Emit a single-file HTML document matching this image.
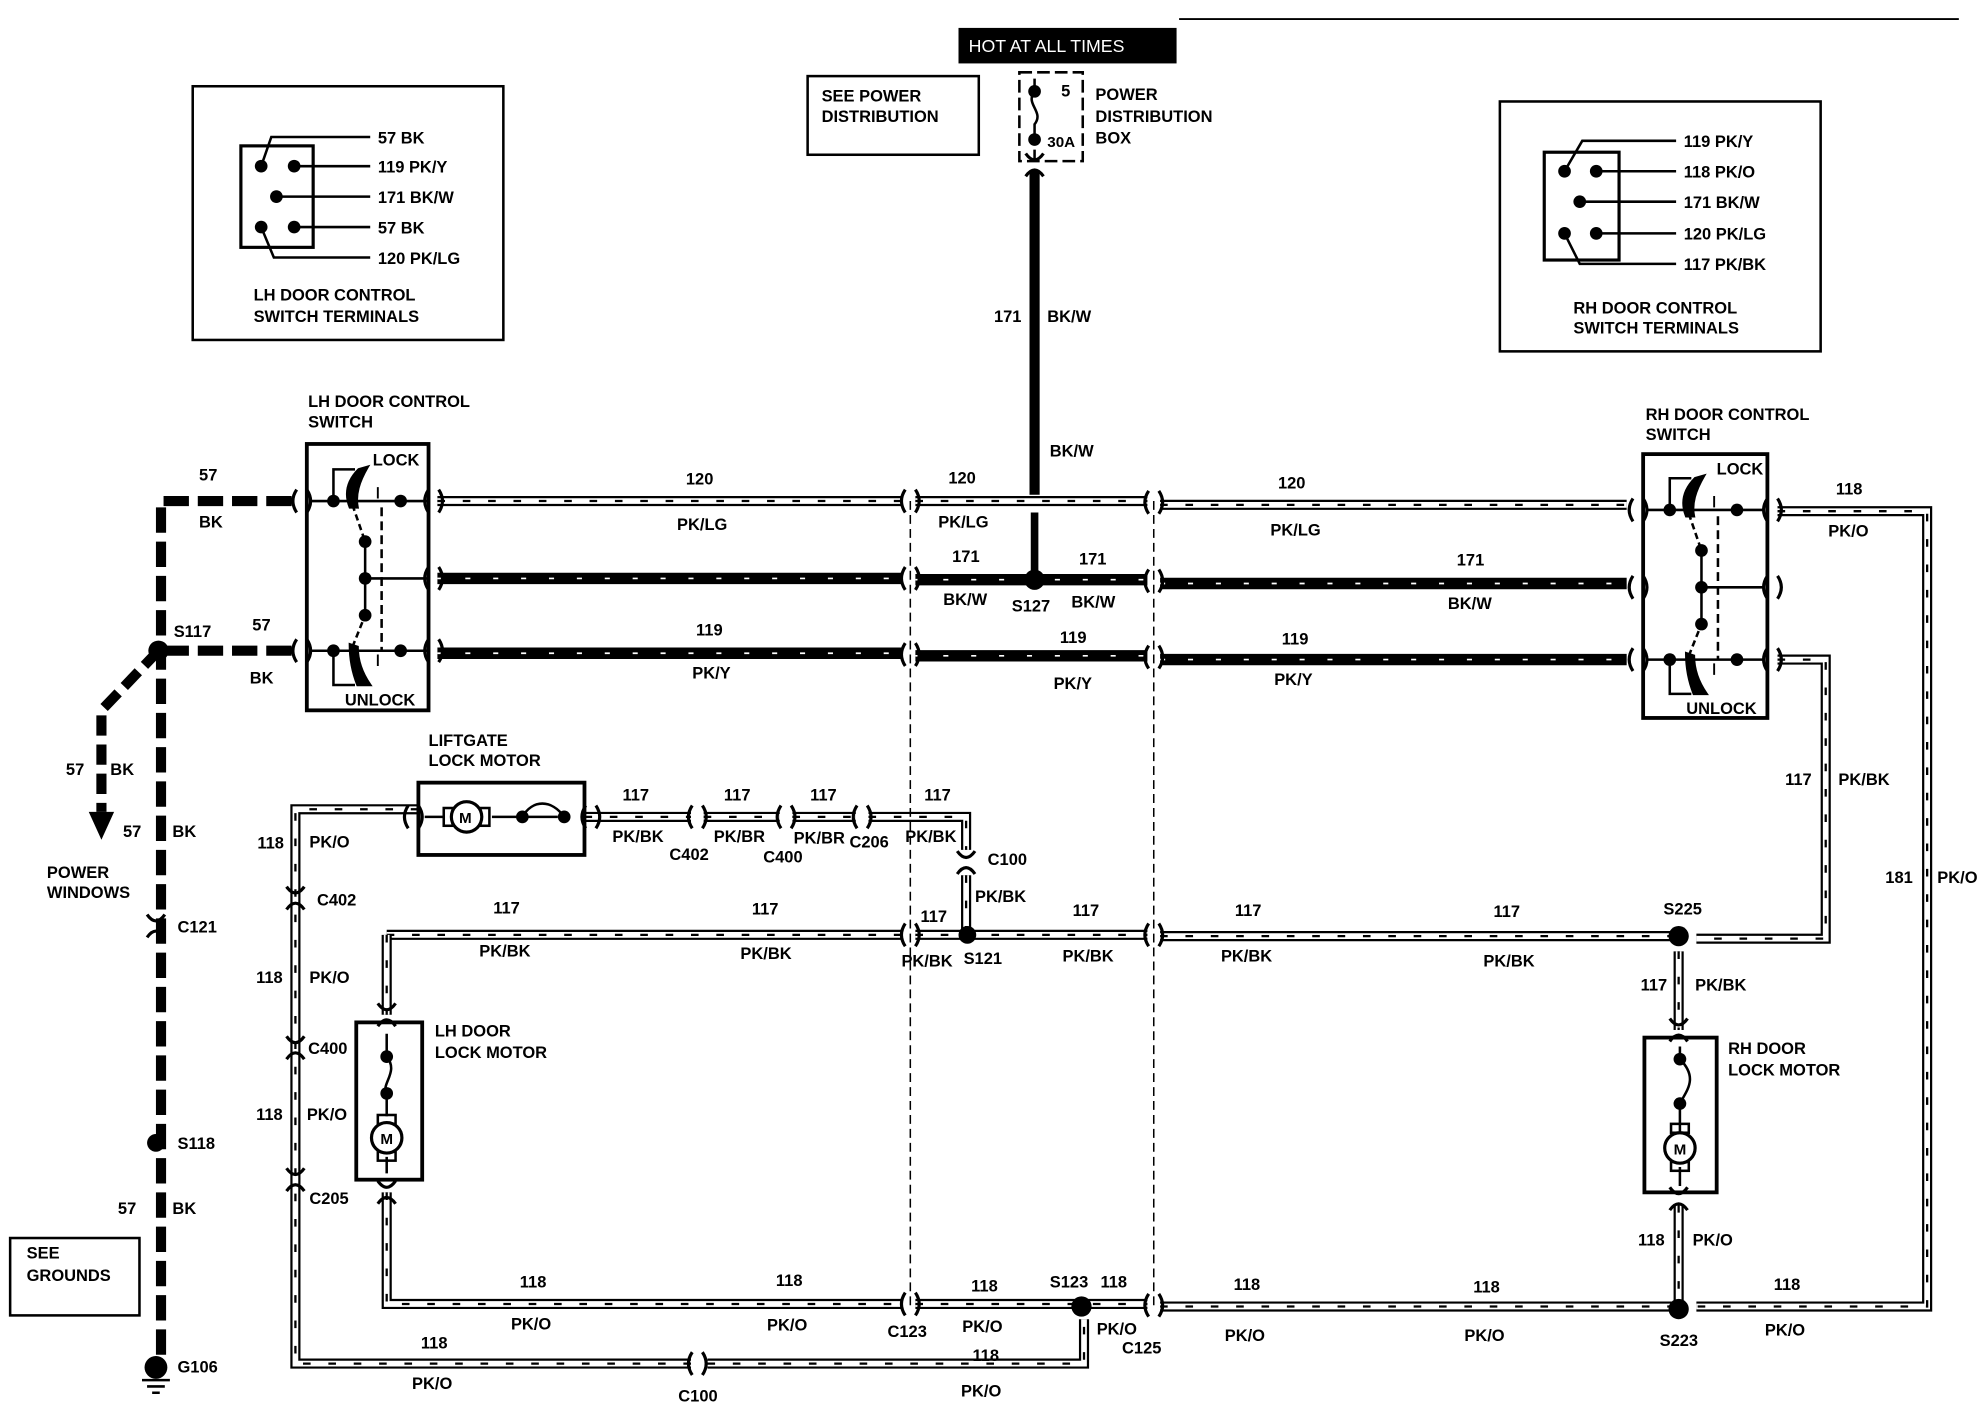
<!DOCTYPE html>
<html><head><meta charset="utf-8"><style>
html,body{margin:0;padding:0;background:#fff;}
svg{display:block;}
text{font-family:"Liberation Sans",sans-serif;font-weight:bold;font-size:13px;fill:#000;}
.n{font-weight:normal;}
</style></head><body>
<svg id="s" width="1988" height="1408" viewBox="0 0 1568 1110" preserveAspectRatio="none" xmlns="http://www.w3.org/2000/svg">
<rect width="1568" height="1110" fill="#fff"/>
<g id="wires"></g>
<g id="fg" fill="none" stroke="#000">
<line x1="930" y1="15" x2="1545" y2="15" stroke-width="1.5"/>
<rect x="152" y="68" width="245" height="200" stroke-width="2"/>
<rect x="190" y="115" width="57" height="80" stroke-width="2.5"/>
<rect x="1183" y="80" width="253" height="197" stroke-width="2"/>
<rect x="1218" y="120" width="59" height="85" stroke-width="2.5"/>
<rect x="637" y="60" width="135" height="62" stroke-width="2"/>
<rect x="804" y="57" width="50" height="70" stroke-width="2" stroke-dasharray="10 4"/>
<rect x="242" y="350" width="96" height="210" stroke-width="3"/>
<rect x="1296" y="358" width="98" height="208" stroke-width="3"/>
<rect x="330" y="617" width="131" height="57" stroke-width="3"/>
<rect x="281" y="806" width="52" height="124" stroke-width="3"/>
<rect x="1297" y="818" width="57" height="122" stroke-width="3"/>
<rect x="8" y="976" width="102" height="61" stroke-width="2"/>
<g stroke-width="2">
<path d="M206,131 L214,108 H292 M232,131 H292 M218,155 H292 M232,179 H292 M206,179 L216,203 H292"/>
<path d="M1234,135 L1248,111 H1322 M1259,135 H1322 M1246,159 H1322 M1259,184 H1322 M1234,184 L1246,208 H1322"/>
</g>
<line x1="718" y1="395" x2="718" y2="1030" stroke-width="1.2" stroke-dasharray="7 4"/>
<line x1="910" y1="395" x2="910" y2="1030" stroke-width="1.2" stroke-dasharray="7 4"/>
<g stroke-width="8" stroke-dasharray="20 7">
<path d="M230,395 H127 V1070"/>
<path d="M230,513 H125"/>
<path d="M125,513 L80,560 V640" stroke-dasharray="16 7"/>
</g>
<path d="M816,72 C808,82 824,88 816,98 V110 M816,118 V127 M816,72 V62" stroke-width="2"/>
<line x1="816" y1="135" x2="816" y2="390" stroke-width="8"/>
<line x1="816" y1="404" x2="816" y2="455" stroke-width="6"/>
<path d="M335,644 H350 M388,644 H440 M412,644 C420,630 435,630 445,644" stroke-width="2"/>
<rect x="350" y="637" width="7" height="14" stroke-width="2"/>
<rect x="379" y="637" width="7" height="14" stroke-width="2"/>
<circle cx="368" cy="644" r="12" stroke-width="2.5" fill="#fff"/>
<path d="M305,815 V833 M305,833 C315,845 300,855 305,862 M305,862 V880 M305,912 V925" stroke-width="2"/>
<rect x="298" y="879" width="14" height="7" stroke-width="2"/>
<rect x="298" y="908" width="14" height="7" stroke-width="2"/>
<circle cx="305" cy="897" r="12" stroke-width="2.5" fill="#fff"/>
<path d="M1325,825 V835 M1325,835 C1340,850 1330,860 1325,870 V893 M1325,920 V935" stroke-width="2"/>
<rect x="1318" y="886" width="14" height="7" stroke-width="2"/>
<rect x="1318" y="916" width="14" height="7" stroke-width="2"/>
<circle cx="1325" cy="905" r="12" stroke-width="2.5" fill="#fff"/>
<g id="sw" stroke-width="2">
<path d="M244,395 H338 M244,513 H338 M288,456 H338 M288,427 V485"/>
<path d="M263,395 V370 H280 M263,513 V540 H280"/>
<path d="M278,398 L288,427 M278,510 L288,485" stroke-dasharray="5 3"/>
<path d="M301,400 V513" stroke-dasharray="7 4"/>
<path d="M283,370 C273,380 272,390 276,400 L282,400 C280,390 283,380 290,368Z M282,540 C278,530 276,520 276,508 L282,510 C282,520 285,530 292,540Z" fill="#000"/>
<path d="M298,384 V393 M298,525 V516" stroke-width="1.5"/>
</g>
<use href="#sw" transform="translate(1054,7)"/>
<path d="M112,1088 H134 M116,1093 H130 M120,1098 H126" stroke-width="2"/>
<path d="M80,640 L70,640 L80,662 L90,640Z" fill="#000" stroke="none"/>
</g>
<g id="dots" fill="#000"></g>
<text x="362" y="649" style="font-size:12px">M</text>
<text x="300" y="902" style="font-size:12px">M</text>
<text x="1320" y="910" style="font-size:12px">M</text>
<rect x="756" y="22" width="172" height="28" fill="#000"/>
<text x="764" y="41" style="fill:#fff;font-weight:normal;font-size:14px">HOT AT ALL TIMES</text>
<g><text x="648" y="80">SEE POWER</text><text x="648" y="96">DISTRIBUTION</text>
<text x="864" y="79">POWER</text><text x="864" y="96">DISTRIBUTION</text><text x="864" y="113">BOX</text>
<text x="837" y="76">5</text><text x="826" y="116" style="font-size:12px">30A</text>
<text x="21" y="992">SEE</text><text x="21" y="1010">GROUNDS</text></g>
<g>
<text x="298" y="113">57 BK</text><text x="298" y="136">119 PK/Y</text><text x="298" y="160">171 BK/W</text><text x="298" y="184">57 BK</text><text x="298" y="208">120 PK/LG</text>
<text x="200" y="237">LH DOOR CONTROL</text><text x="200" y="254">SWITCH TERMINALS</text>
<text x="1328" y="116">119 PK/Y</text><text x="1328" y="140">118 PK/O</text><text x="1328" y="164">171 BK/W</text><text x="1328" y="189">120 PK/LG</text><text x="1328" y="213">117 PK/BK</text>
<text x="1241" y="247">RH DOOR CONTROL</text><text x="1241" y="263">SWITCH TERMINALS</text>
<text x="243" y="321">LH DOOR CONTROL</text><text x="243" y="337">SWITCH</text>
<text x="1298" y="331">RH DOOR CONTROL</text><text x="1298" y="347">SWITCH</text>
<text x="294" y="367">LOCK</text><text x="272" y="556">UNLOCK</text>
<text x="1354" y="374">LOCK</text><text x="1330" y="563">UNLOCK</text>
<text x="784" y="254">171</text><text x="826" y="254">BK/W</text><text x="828" y="360">BK/W</text>
<text x="541" y="382">120</text><text x="534" y="418">PK/LG</text><text x="748" y="381">120</text><text x="740" y="416">PK/LG</text>
<text x="1008" y="385">120</text><text x="1002" y="422">PK/LG</text>
<text x="751" y="443">171</text><text x="744" y="477">BK/W</text><text x="798" y="482">S127</text><text x="851" y="445">171</text><text x="845" y="479">BK/W</text>
<text x="1149" y="446">171</text><text x="1142" y="480">BK/W</text>
<text x="549" y="501">119</text><text x="546" y="535">PK/Y</text><text x="836" y="507">119</text><text x="831" y="543">PK/Y</text><text x="1011" y="508">119</text><text x="1005" y="540">PK/Y</text>
<text x="157" y="379">57</text><text x="157" y="416">BK</text><text x="137" y="502">S117</text><text x="199" y="497">57</text><text x="197" y="539">BK</text>
<text x="52" y="611">57</text><text x="87" y="611">BK</text><text x="97" y="660">57</text><text x="136" y="660">BK</text>
<text x="37" y="692">POWER</text><text x="37" y="708">WINDOWS</text>
<text x="140" y="735">C121</text><text x="140" y="906">S118</text><text x="93" y="957">57</text><text x="136" y="957">BK</text><text x="140" y="1082">G106</text>
<text x="1448" y="390">118</text><text x="1442" y="423">PK/O</text>
<text x="1408" y="619">117</text><text x="1450" y="619">PK/BK</text>
<text x="1487" y="696">181</text><text x="1528" y="696">PK/O</text>
<text x="1312" y="721">S225</text><text x="1294" y="781">117</text><text x="1337" y="781">PK/BK</text>
<text x="1363" y="831">RH DOOR</text><text x="1363" y="848">LOCK MOTOR</text>
<text x="1292" y="982">118</text><text x="1335" y="982">PK/O</text><text x="1309" y="1061">S223</text>
<text x="1399" y="1017">118</text><text x="1392" y="1053">PK/O</text>
<text x="338" y="588">LIFTGATE</text><text x="338" y="604">LOCK MOTOR</text>
<text x="491" y="631">117</text><text x="483" y="664">PK/BK</text><text x="528" y="678">C402</text>
<text x="571" y="631">117</text><text x="563" y="664">PK/BR</text><text x="602" y="680">C400</text>
<text x="639" y="631">117</text><text x="626" y="665">PK/BR</text><text x="670" y="668">C206</text>
<text x="729" y="631">117</text><text x="714" y="664">PK/BK</text><text x="779" y="682">C100</text><text x="769" y="711">PK/BK</text>
<text x="203" y="669">118</text><text x="244" y="668">PK/O</text><text x="250" y="714">C402</text>
<text x="202" y="775">118</text><text x="244" y="775">PK/O</text><text x="243" y="831">C400</text>
<text x="202" y="883">118</text><text x="242" y="883">PK/O</text><text x="244" y="949">C205</text>
<text x="343" y="817">LH DOOR</text><text x="343" y="834">LOCK MOTOR</text>
<text x="389" y="720">117</text><text x="378" y="754">PK/BK</text><text x="593" y="721">117</text><text x="584" y="756">PK/BK</text>
<text x="726" y="727">117</text><text x="711" y="762">PK/BK</text><text x="760" y="760">S121</text>
<text x="846" y="722">117</text><text x="838" y="758">PK/BK</text><text x="974" y="722">117</text><text x="963" y="758">PK/BK</text>
<text x="1178" y="723">117</text><text x="1170" y="762">PK/BK</text>
<text x="410" y="1015">118</text><text x="403" y="1048">PK/O</text><text x="612" y="1014">118</text><text x="605" y="1049">PK/O</text>
<text x="766" y="1018">118</text><text x="759" y="1050">PK/O</text><text x="700" y="1054">C123</text>
<text x="828" y="1015">S123</text><text x="868" y="1015">118</text><text x="865" y="1052">PK/O</text><text x="885" y="1067">C125</text>
<text x="973" y="1017">118</text><text x="966" y="1057">PK/O</text><text x="1162" y="1019">118</text><text x="1155" y="1057">PK/O</text>
<text x="332" y="1063">118</text><text x="325" y="1095">PK/O</text><text x="535" y="1105">C100</text>
<text x="767" y="1073">118</text><text x="758" y="1101">PK/O</text>
</g>
</svg>
<script>
var NS="http://www.w3.org/2000/svg",W=document.getElementById("wires"),D=document.getElementById("dots");
function p(d,a){var e=document.createElementNS(NS,"path");e.setAttribute("d",d);e.setAttribute("fill","none");for(var k in a)e.setAttribute(k,a[k]);W.appendChild(e);}
function hollow(d){p(d,{stroke:"#000","stroke-width":8});p(d,{stroke:"#fff","stroke-width":4.5});p(d,{stroke:"#000","stroke-width":1.8,"stroke-dasharray":"6 14"});}
function dark(d){p(d,{stroke:"#000","stroke-width":9});p(d,{stroke:"#fff","stroke-width":1.3,"stroke-dasharray":"4 18"});}
[
"M345,395 H712","M722,395 H905","M915,398 H1283",
"M1402,403 H1520 V1030 H1338",
"M1402,520 H1440 V740 H1338",
"M1324,750 V812","M1324,950 V1030",
"M305,737 H712","M722,737 H905","M915,738 H1324",
"M305,737 V800","M305,940 V1028 H712","M722,1028 H905","M915,1030 H1324",
"M330,638 H233 V1075 H545","M558,1075 H855 V1040",
"M461,644 H545","M555,644 H615","M625,644 H675","M685,644 H762 V670","M762,690 V737"
].forEach(hollow);
["M345,456 H712","M722,457 H905","M915,460 H1283","M345,515 H712","M722,517 H905","M915,520 H1283"].forEach(dark);
function c(x,y,v){var d=v?("M"+(x-7)+","+(y-9)+" Q"+x+","+(y+1)+" "+(x+7)+","+(y-9)+" M"+(x-7)+","+(y+9)+" Q"+x+","+(y-1)+" "+(x+7)+","+(y+9)):("M"+(x-4)+","+(y-9)+" Q"+(x-10)+","+y+" "+(x-4)+","+(y+9)+" M"+(x+4)+","+(y-9)+" Q"+(x+10)+","+y+" "+(x+4)+","+(y+9));p(d,{stroke:"#000","stroke-width":2.5});}
[[718,395],[910,396],[718,456],[910,458],[718,516],[910,518],[718,737],[910,737],[718,1028],[910,1029],[550,1075],[550,644],[620,644],[680,644],[238,395],[342,395],[238,513],[342,513],[342,456],[1292,402],[1398,402],[1292,520],[1398,520],[1292,463],[1398,463],[326,644],[466,644]].forEach(function(a){c(a[0],a[1],0);});
[[233,708],[233,826],[233,930],[762,680],[123,730],[816,130],[305,800],[305,940],[1324,812],[1324,945]].forEach(function(a){c(a[0],a[1],1);});
function dot(x,y,r){var e=document.createElementNS(NS,"circle");e.setAttribute("cx",x);e.setAttribute("cy",y);e.setAttribute("r",r||5);D.appendChild(e);}
[[816,457,8],[125,513,8],[123,901,7],[123,1078,9],[763,737,7],[853,1030,8],[1324,738,8],[1324,1032,8],
[206,131],[232,131],[218,155],[206,179],[232,179],[1234,135],[1259,135],[1246,159],[1234,184],[1259,184],
[263,395],[316,395],[263,513],[316,513],[288,427],[288,456],[288,485],
[1317,402],[1370,402],[1317,520],[1370,520],[1342,434],[1342,463],[1342,492],
[412,644],[445,644],[816,72],[816,110],[305,833],[305,862],[1325,835],[1325,870]].forEach(function(a){dot(a[0],a[1],a[2]);});
</script>
</body></html>
